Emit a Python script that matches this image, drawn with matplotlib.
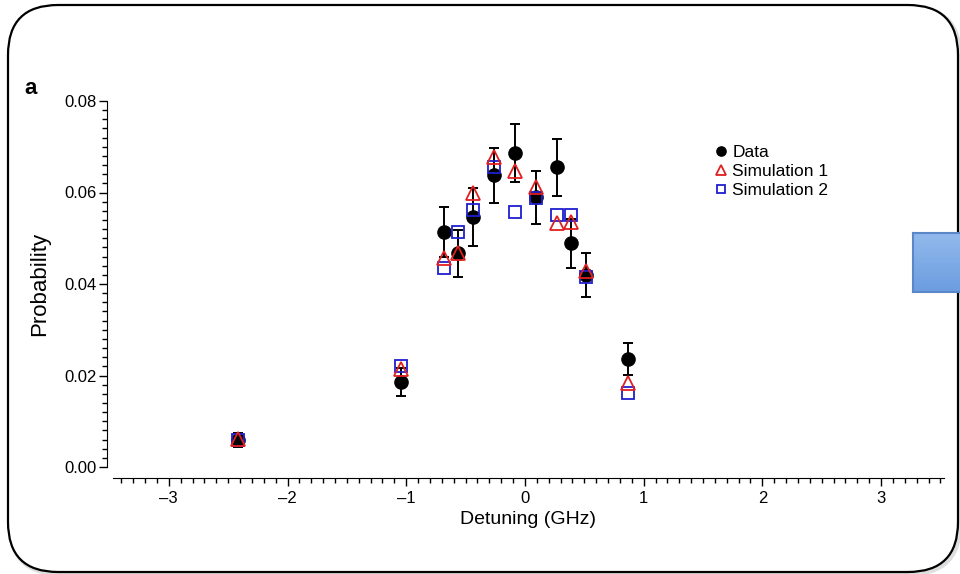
import numpy as np
import matplotlib
matplotlib.use('Agg')
import matplotlib.pyplot as plt
from matplotlib import font_manager
from matplotlib.patches import FancyBboxPatch
from matplotlib.ticker import MultipleLocator

#The reference uses a condensed Helvetica; use the narrow Liberation face when present.
names  = {f.name for f in font_manager.fontManager.ttflist}
narrow = 'Liberation Sans Narrow' in names
if narrow:
	plt.rcParams['font.family'] = ['Liberation Sans Narrow', 'DejaVu Sans']
	TICK, LAB, YLAB, LEG = 14.5, 16.5, 17.5, 14.5
else:
	plt.rcParams['font.family'] = ['Liberation Sans', 'DejaVu Sans']
	TICK, LAB, YLAB, LEG = 12, 14, 16, 12.5

# Values
detuning = [-2.42, -1.045, -0.68, -0.562, -0.44, -0.264, -0.084, 0.093, 0.27, 0.39, 0.514, 0.868]
data     = [0.0059, 0.0186, 0.0514, 0.0467, 0.0546, 0.0638, 0.0686, 0.0590, 0.0655, 0.0489, 0.0420, 0.0236]
data_err = [0.0015, 0.0030, 0.0055, 0.0052, 0.0064, 0.0060, 0.0063, 0.0058, 0.0062, 0.0053, 0.0048, 0.0035]
sim1     = [0.0061, 0.0214, 0.0456, 0.0467, 0.0598, 0.0678, 0.0646, 0.0611, 0.0534, 0.0536, 0.0428, 0.0184]
sim2     = [0.0060, 0.0221, 0.0434, 0.0513, 0.0562, 0.0656, 0.0557, 0.0587, 0.0551, 0.0551, 0.0416, 0.0162]
labels   = ['Data', 'Simulation 1', 'Simulation 2']

W, H = 960, 574
fig = plt.figure(figsize=(W / 100, H / 100), dpi=100)

#Rounded slide frame with a soft shadow, kept behind the axes.
shadow = FancyBboxPatch((0.10, 0.00), 9.50, 5.67, boxstyle='round,pad=0,rounding_size=0.5',
                        transform=fig.dpi_scale_trans, facecolor='none', edgecolor='#c8c8c8',
                        linewidth=3, alpha=0.6, zorder=-3)
frame = FancyBboxPatch((0.08, 0.02), 9.50, 5.67, boxstyle='round,pad=0,rounding_size=0.5',
                       transform=fig.dpi_scale_trans, facecolor='white', edgecolor='black',
                       linewidth=1.6, zorder=-2)
fig.patches.extend([shadow, frame])

#Blue box cut by the right edge.
bax = fig.add_axes([913 / W, (H - 292) / H, 50 / W, 59 / H])
grad = np.linspace(0, 1, 100).reshape(-1, 1)
cmap = matplotlib.colors.LinearSegmentedColormap.from_list('b', ['#92b9ec', '#6b9de0'])
bax.imshow(grad, aspect='auto', cmap=cmap, extent=[0, 1, 0, 1], origin='upper')
bax.set_xticks([])
bax.set_yticks([])
for s in bax.spines.values():
	s.set_color('#5b87c9')
	s.set_linewidth(1.5)

#Main axes.
ax = fig.add_axes([113 / W, (H - 467) / H, 831 / W, 366 / H])
ax.patch.set_alpha(0)
ax.errorbar(detuning, data, yerr=data_err, fmt='none', ecolor='black', elinewidth=1.4,
            capsize=3.5, capthick=1.4, zorder=2)
ax.plot(detuning, data, 'o', color='black', markersize=9.5, label=labels[0], zorder=3)
ax.plot(detuning, sim2, 's', mfc='none', mec='#1f1fd0', mew=1.3, markersize=9,
        label=labels[2], zorder=4)
ax.plot(detuning, sim1, '^', mfc='none', mec='#e02020', mew=1.3, markersize=10,
        label=labels[1], zorder=5)

ax.set_xlim(-3.47, 3.53)
ax.set_ylim(0, 0.08)
ax.xaxis.set_major_locator(MultipleLocator(1))
ax.xaxis.set_minor_locator(MultipleLocator(0.1))
ax.yaxis.set_major_locator(MultipleLocator(0.02))
ax.yaxis.set_minor_locator(MultipleLocator(0.002))
ax.xaxis.set_major_formatter(matplotlib.ticker.FuncFormatter(
	lambda v, p: ('\u2013%d' % abs(round(v))) if v < 0 else '%d' % round(v)))
ax.yaxis.set_major_formatter(matplotlib.ticker.FormatStrFormatter('%.2f'))

for side in ['top', 'right']:
	ax.spines[side].set_visible(False)
ax.spines['left'].set_position(('outward', 4))
ax.spines['bottom'].set_position(('outward', 8))
ax.tick_params(which='major', direction='out', length=6, width=1, labelsize=TICK, color='black')
ax.tick_params(which='minor', direction='out', length=3.5, width=1)
ax.tick_params(axis='x', pad=3)
ax.tick_params(axis='y', pad=2)

ax.set_xlabel('Detuning (GHz)', fontsize=LAB, labelpad=4)
ax.set_ylabel('Probability', fontsize=YLAB, labelpad=10)

handles, labs = ax.get_legend_handles_labels()
order = [labs.index(l) for l in labels]
ax.legend([handles[i] for i in order], [labs[i] for i in order], loc='upper left',
          bbox_to_anchor=(707 / W, 1 - 136 / H), bbox_transform=fig.transFigure,
          frameon=False, fontsize=LEG, handlelength=0.6, handletextpad=0.35,
          labelspacing=0.22, borderpad=0, markerscale=0.7)

fig.text(24 / W, 1 - 88 / H, 'a', fontsize=16, fontweight='bold', va='center', ha='left')

fig.savefig('out.png', dpi=100)
